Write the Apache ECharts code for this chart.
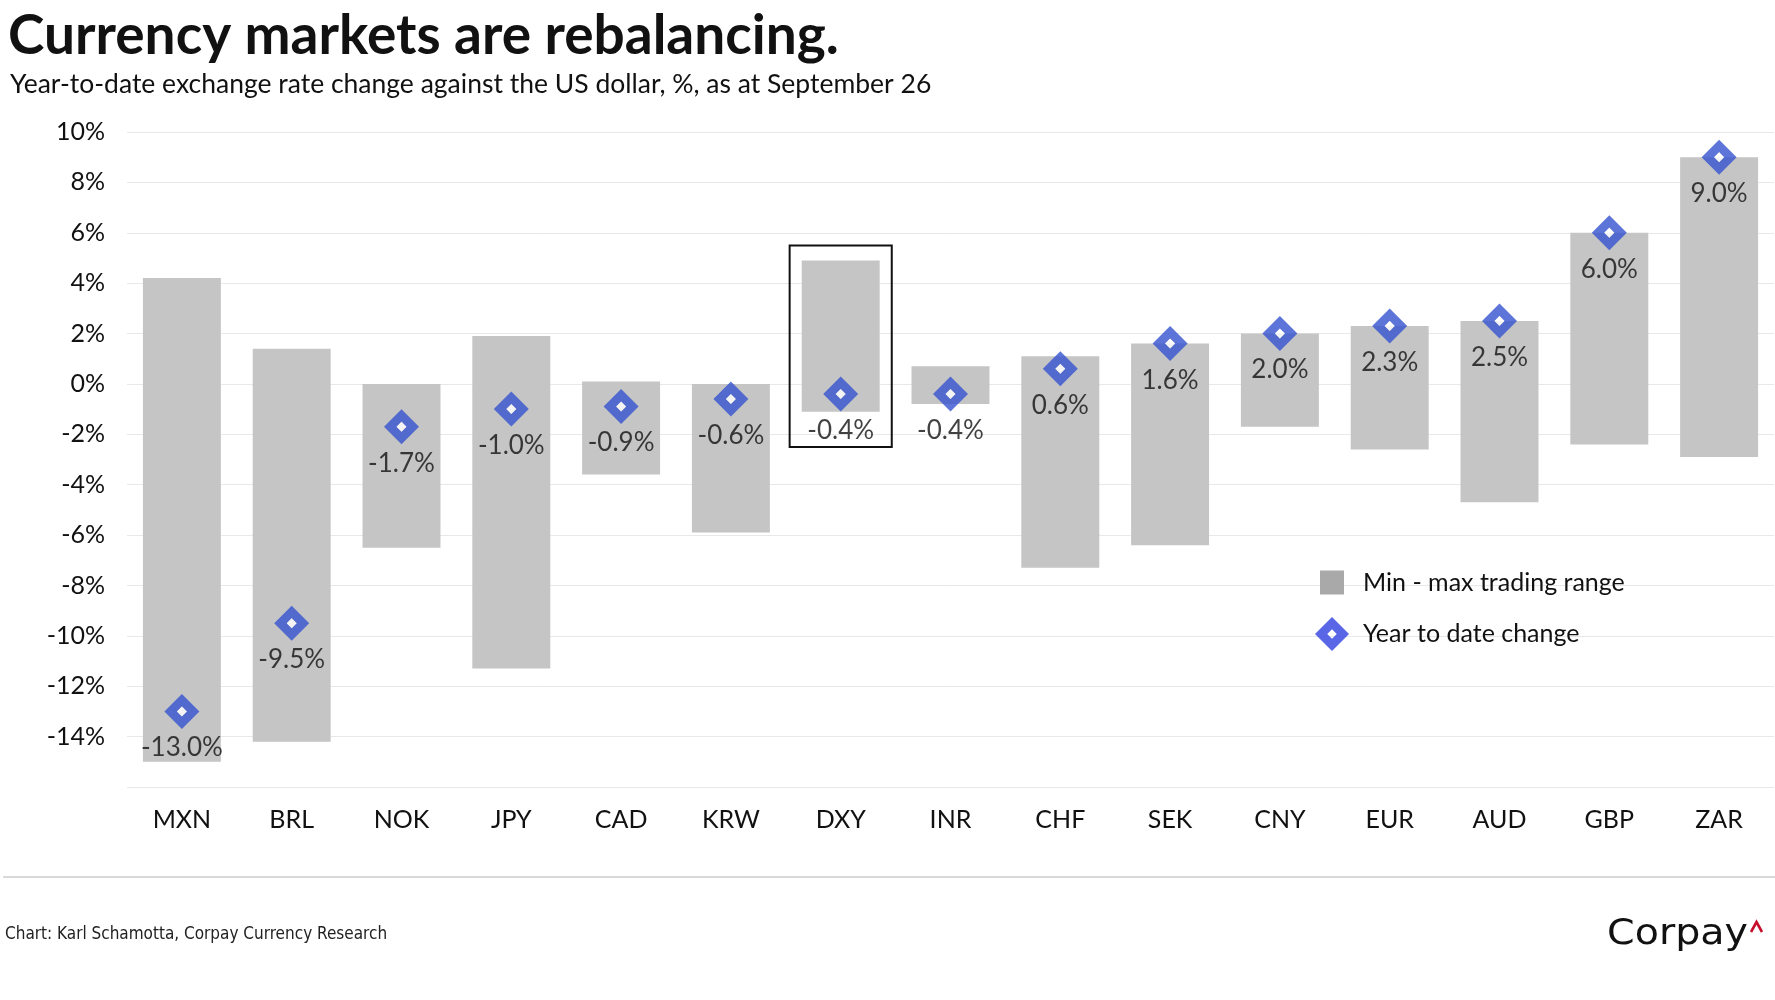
<!DOCTYPE html>
<html>
<head>
<meta charset="utf-8">
<script src="https://cdn.jsdelivr.net/npm/echarts@6/dist/echarts.min.js"></script>
<style>
html,body{margin:0;padding:0;background:#fff;}
#chart{width:1775px;height:1000px;}
</style>
</head>
<body>
<div id="chart"></div>
<script>
const categories = ['MXN','BRL','NOK','JPY','CAD','KRW','DXY','INR','CHF','SEK','CNY','EUR','AUD','GBP','ZAR'];
const rangeMin = [-15.0,-14.2,-6.5,-11.3,-3.6,-5.9,-1.1,-0.8,-7.3,-6.4,-1.7,-2.6,-4.7,-2.4,-2.9];
const rangeMax = [4.2,1.4,0.0,1.9,0.1,0.0,4.9,0.7,1.1,1.6,2.0,2.3,2.5,6.0,9.0];
const ytdChange = [-13.0,-9.5,-1.7,-1.0,-0.9,-0.6,-0.4,-0.4,0.6,1.6,2.0,2.3,2.5,6.0,9.0];
const highlighted = ['DXY'];
const yTicks = {min:-16, max:10, step:2};

const FONT = 'Lato, "Open Sans", sans-serif';
const BLUE = '#3553cf';
const diamondHole = 'path://M0,-10 L10,0 L0,10 L-10,0 Z M0,-2.8 L-2.8,0 L0,2.8 L2.8,0 Z';

const chart = echarts.init(document.getElementById('chart'), null, {renderer:'canvas'});

const rangeData = categories.map((c,i)=>[i, rangeMin[i], rangeMax[i]]);
const hlData = categories.map((c,i)=>highlighted.includes(c) ? [i, rangeMax[i], ytdChange[i]] : null).filter(d=>d);

const legendText = {fontFamily:FONT, fontSize:25, color:'#111'};

const option = {
  backgroundColor:'#fff',
  animation:false,
  title:[
    {text:'Currency markets are rebalancing.', left:3, top:4,
     textStyle:{fontFamily:FONT, fontSize:55, fontWeight:'bold', color:'#111'}},
    {text:'Year-to-date exchange rate change against the US dollar, %, as at September 26', left:5, top:66,
     textStyle:{fontFamily:FONT, fontSize:26.5, fontWeight:'normal', color:'#111'}}
  ],
  grid:{left:127, right:1, top:132, bottom:213, containLabel:false},
  legend:[
    {
      orient:'vertical', left:1315, top:565, itemWidth:24, itemHeight:24,
      textStyle:Object.assign({padding:[0,0,0,14]}, legendText),
      data:[{name:'Min - max trading range', icon:'rect', itemStyle:{color:'#a9a9a9'}}]
    },
    {
      orient:'vertical', left:1310, top:612, itemWidth:34, itemHeight:34,
      textStyle:Object.assign({padding:[0,0,0,9]}, legendText),
      data:[{name:'Year to date change', icon:diamondHole, itemStyle:{color:'#2f40e0'}}]
    }
  ],
  xAxis:{
    type:'category', data:categories,
    axisLine:{show:false}, axisTick:{show:false},
    axisLabel:{fontFamily:FONT, fontSize:25, color:'#111', margin:20}
  },
  yAxis:{
    type:'value', min:yTicks.min, max:yTicks.max, interval:yTicks.step,
    axisLine:{show:false}, axisTick:{show:false},
    axisLabel:{fontFamily:FONT, fontSize:25, color:'#111', margin:22,
      formatter:v=> v===yTicks.min ? '' : v+'%'},
    splitLine:{lineStyle:{color:'#e8e8e8', width:1}}
  },
  series:[
    {
      name:'Min - max trading range', type:'custom', z:2,
      data:rangeData, encode:{x:0, y:[1,2]},
      renderItem:(params, api)=>{
        const i = api.value(0);
        const p1 = api.coord([i, api.value(1)]);
        const p2 = api.coord([i, api.value(2)]);
        const w = api.size([1,0])[0]*0.71;
        return {type:'rect', shape:{x:p1[0]-w/2, y:p2[1], width:w, height:p1[1]-p2[1]},
                style:{fill:'#c5c5c5'}};
      }
    },
    {
      name:'highlight', type:'custom', z:5, silent:true,
      data:hlData, encode:{x:0, y:[1,2]},
      renderItem:(params, api)=>{
        const i = api.value(0);
        const top = api.coord([i, api.value(1)]);
        const bot = api.coord([i, api.value(2)]);
        const w = api.size([1,0])[0]*0.93;
        return {type:'rect', shape:{x:top[0]-w/2, y:top[1]-15, width:w, height:(bot[1]+53)-(top[1]-15)},
                style:{fill:'none', stroke:'#111', lineWidth:2}};
      }
    },
    {
      name:'Year to date change', type:'scatter', z:3,
      data:ytdChange, symbol:diamondHole, symbolSize:35,
      itemStyle:{color:BLUE},
      label:{show:true, position:'bottom', distance:6, fontFamily:FONT, fontSize:26, color:'#111',
        formatter:p=>p.value.toFixed(1)+'%'}
    },
    {
      name:'ytd-inner', type:'scatter', z:4, silent:true,
      data:ytdChange, symbol:'diamond', symbolSize:10,
      itemStyle:{color:'#fff'}
    }
  ],
  graphic:[
    {type:'line', shape:{x1:3, y1:877, x2:1775, y2:877}, style:{stroke:'#d9d9d9', lineWidth:2}},
    {type:'text', left:5, top:926, style:{text:'Chart: Karl Schamotta, Corpay Currency Research',
      font:'17px "Liberation Sans Narrow", "DejaVu Sans Condensed", sans-serif', fill:'#222'}},
    {type:'text', x:1607, y:917, scaleX:1.1, style:{text:'Corpay', font:'36px "DejaVu Sans", sans-serif', fill:'#111'}},
    {type:'polyline', shape:{points:[[1751,932],[1756.5,922],[1762,932]]}, style:{stroke:'#c8102e', lineWidth:2.6, fill:'none'}}
  ]
};
chart.setOption(option);
</script>
</body>
</html>
